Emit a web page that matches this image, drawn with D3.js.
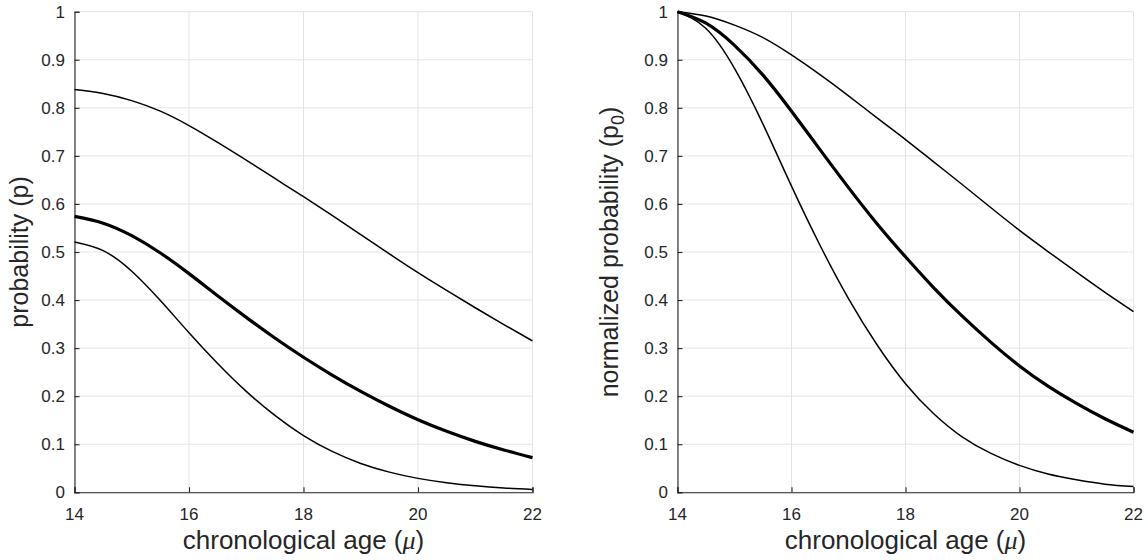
<!DOCTYPE html>
<html>
<head>
<meta charset="utf-8">
<script src="https://cdn.jsdelivr.net/npm/d3@7"></script>
<style>
  html, body { margin: 0; padding: 0; background: #fff; }
  svg { display: block; }
  text { font-family: "Liberation Sans", Arial, Helvetica, sans-serif; fill: #262626; }
</style>
</head>
<body>
<svg id="chart" width="1148" height="560"></svg>
<script>
// ---- data ----
const ages = [14, 14.5, 15, 15.5, 16, 16.5, 17, 17.5, 18, 18.5, 19, 19.5, 20, 20.5, 21, 21.5, 22];

const leftUpper = [0.838, 0.830, 0.815, 0.793, 0.763, 0.728, 0.691, 0.653, 0.615, 0.576, 0.536, 0.496, 0.457, 0.420, 0.384, 0.349, 0.315];
const leftMean  = [0.574, 0.560, 0.534, 0.498, 0.455, 0.409, 0.364, 0.321, 0.281, 0.244, 0.210, 0.179, 0.151, 0.127, 0.106, 0.088, 0.072];
const leftLower = [0.521, 0.503, 0.460, 0.399, 0.332, 0.268, 0.210, 0.160, 0.118, 0.085, 0.060, 0.042, 0.029, 0.020, 0.0135, 0.009, 0.006];

const rightUpper = [1, 0.991, 0.972, 0.946, 0.910, 0.869, 0.825, 0.779, 0.734, 0.687, 0.640, 0.592, 0.545, 0.501, 0.458, 0.416, 0.376];
const rightMean  = [1, 0.976, 0.930, 0.868, 0.793, 0.713, 0.634, 0.559, 0.490, 0.425, 0.366, 0.312, 0.263, 0.221, 0.185, 0.153, 0.125];
const rightLower = [1, 0.965, 0.882, 0.766, 0.637, 0.514, 0.403, 0.307, 0.226, 0.163, 0.115, 0.081, 0.056, 0.038, 0.026, 0.017, 0.012];

const xTicks = [14, 16, 18, 20, 22];
const yTicks = [0, 0.1, 0.2, 0.3, 0.4, 0.5, 0.6, 0.7, 0.8, 0.9, 1];
const xLabel = "chronological age";

// ---- drawing ----
const svg = d3.select("#chart");
const axisColor = "#262626";
const gridColor = "#e4e4e4";

function panel(opts) {
  const x = d3.scaleLinear().domain([14, 22]).range([opts.left, opts.right]);
  const y = d3.scaleLinear().domain([0, 1]).range([opts.bottom, opts.top]);
  const g = svg.append("g");

  // grid
  g.append("g").selectAll("line").data(xTicks).join("line")
    .attr("x1", d => x(d)).attr("x2", d => x(d))
    .attr("y1", opts.top).attr("y2", opts.bottom)
    .attr("stroke", gridColor).attr("stroke-width", 1);
  g.append("g").selectAll("line").data(yTicks).join("line")
    .attr("y1", d => y(d)).attr("y2", d => y(d))
    .attr("x1", opts.left).attr("x2", opts.right)
    .attr("stroke", gridColor).attr("stroke-width", 1);

  // axes (inward ticks)
  const xAxis = d3.axisTop(x).tickValues(xTicks).tickSize(5).tickFormat("");
  const gx = g.append("g").attr("transform", `translate(0,${opts.bottom})`).call(xAxis);
  const yAxis = d3.axisRight(y).tickValues(yTicks).tickSize(5).tickFormat("");
  const gy = g.append("g").attr("transform", `translate(${opts.left},0)`).call(yAxis);
  [gx, gy].forEach(a => {
    a.select(".domain").attr("stroke", axisColor).attr("stroke-width", 1.1);
    a.selectAll(".tick line").attr("stroke", axisColor).attr("stroke-width", 1.1);
  });

  // tick labels
  g.append("g").selectAll("text").data(xTicks).join("text")
    .attr("x", d => x(d)).attr("y", opts.bottom + 28)
    .attr("text-anchor", "middle").attr("font-size", 17)
    .text(d => d3.format("d")(d));
  g.append("g").selectAll("text").data(yTicks).join("text")
    .attr("x", opts.left - 9.5).attr("y", d => y(d)).attr("dy", "0.36em")
    .attr("text-anchor", "end").attr("font-size", 17)
    .text(d => d3.format("~g")(d));

  // curves
  const line = d3.line().x((d, i) => x(ages[i])).y(d => y(d)).curve(d3.curveNatural);
  opts.series.forEach(s => {
    g.append("path").datum(s.values).attr("d", line)
      .attr("fill", "none").attr("stroke", "#000")
      .attr("stroke-width", s.width).attr("stroke-linejoin", "round");
  });

  // x label
  const xl = g.append("text")
    .attr("x", (opts.left + opts.right) / 2).attr("y", opts.bottom + 57)
    .attr("text-anchor", "middle").attr("font-size", 26);
  xl.append("tspan").text(xLabel + " (");
  xl.append("tspan").attr("font-family", "'Liberation Serif', 'Times New Roman', serif")
    .attr("font-style", "italic").text("\u03bc");
  xl.append("tspan").text(")");

  // y label
  const yl = g.append("text")
    .attr("transform", `translate(${opts.ylabelX},${(opts.top + opts.bottom) / 2}) rotate(-90)`)
    .attr("text-anchor", "middle").attr("font-size", 25);
  opts.ylabel(yl);
}

panel({
  left: 74.5, right: 532.5, top: 11.7, bottom: 492.3, ylabelX: 28,
  series: [
    { values: leftUpper, width: 1.5 },
    { values: leftMean, width: 3.2 },
    { values: leftLower, width: 1.5 }
  ],
  ylabel: t => t.text("probability (p)")
});

panel({
  left: 677.5, right: 1133.5, top: 11.7, bottom: 492.3, ylabelX: 618,
  series: [
    { values: rightUpper, width: 1.5 },
    { values: rightMean, width: 3.2 },
    { values: rightLower, width: 1.5 }
  ],
  ylabel: t => {
    t.append("tspan").text("normalized probability (p");
    t.append("tspan").attr("font-size", 18).attr("dy", 6).text("0");
    t.append("tspan").attr("dy", -6).text(")");
  }
});
</script>
</body>
</html>
